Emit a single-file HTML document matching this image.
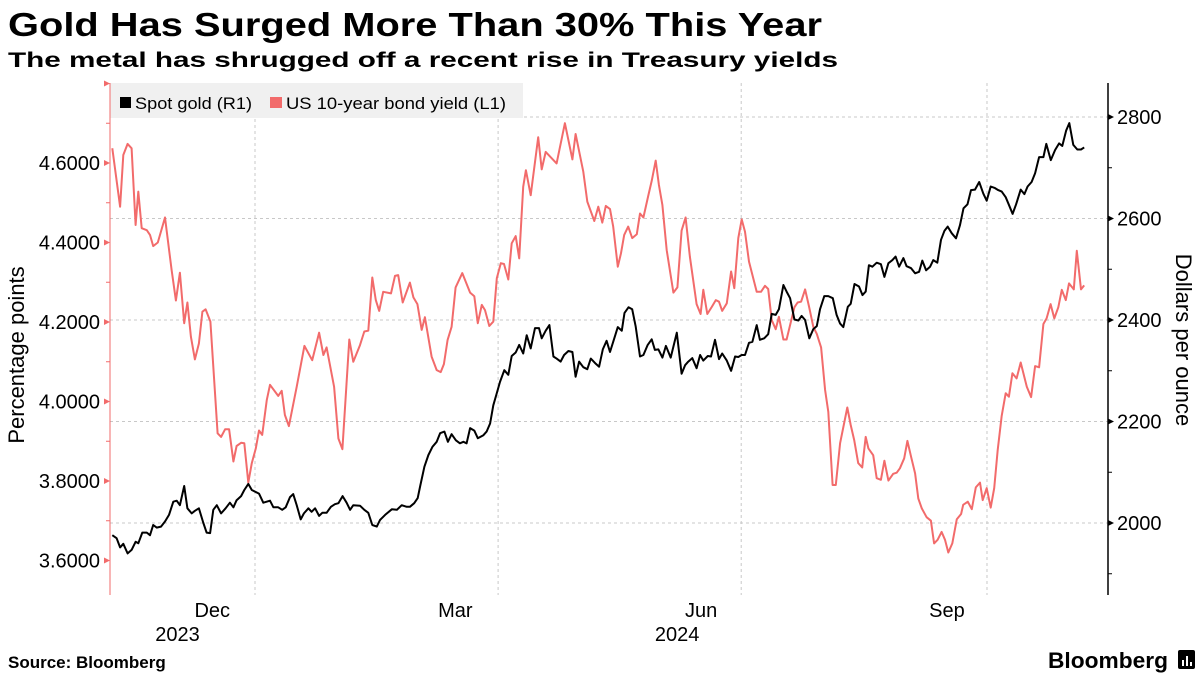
<!DOCTYPE html>
<html><head><meta charset="utf-8"><style>
html,body{margin:0;padding:0;background:#fff;}
svg{display:block;font-family:"Liberation Sans","DejaVu Sans",sans-serif;}
</style></head><body>
<svg id="chart" width="1200" height="675" viewBox="0 0 1200 675" xmlns="http://www.w3.org/2000/svg">
<text x="8" y="36" font-size="33" font-weight="bold" fill="#000" textLength="814" lengthAdjust="spacingAndGlyphs">Gold Has Surged More Than 30% This Year</text>
<text x="8" y="67" font-size="21" font-weight="bold" fill="#000" textLength="830" lengthAdjust="spacingAndGlyphs">The metal has shrugged off a recent rise in Treasury yields</text>
<g id="grid"></g>
<rect x="110" y="83" width="413" height="35" fill="#f0f0f0"/>
<g><rect x="120" y="97" width="11" height="11" fill="#000"/><text x="135" y="109" font-size="17" fill="#000" textLength="117" lengthAdjust="spacingAndGlyphs">Spot gold (R1)</text></g>
<g><rect x="270" y="97" width="12" height="11" fill="#f26b6b"/><text x="286" y="109" font-size="17" fill="#000" textLength="220" lengthAdjust="spacingAndGlyphs">US 10-year bond yield (L1)</text></g>
<g id="axes"></g>
<g id="series"></g>
<text transform="translate(24,355) rotate(-90)" text-anchor="middle" font-size="22" fill="#000">Percentage points</text>
<text transform="translate(1176,340) rotate(90)" text-anchor="middle" font-size="22" fill="#000">Dollars per ounce</text>
<text x="8" y="668" font-size="17" font-weight="bold" fill="#000">Source: Bloomberg</text>
<text x="1048" y="668" font-size="22" font-weight="bold" fill="#000" textLength="120" lengthAdjust="spacingAndGlyphs">Bloomberg</text>
<g><rect x="1178" y="650" width="17" height="19" rx="2" fill="#000"/><rect x="1182" y="660" width="2" height="6" fill="#fff"/><rect x="1186" y="656" width="2" height="10" fill="#fff"/><rect x="1190" y="662" width="2" height="4" fill="#fff"/></g>
</svg>
<script>
const goldDays=[-53.4,-51.8,-50.5,-49.3,-47.7,-46.2,-44.7,-43.7,-42.2,-40.5,-39.3,-38.1,-36.8,-35.2,-33.7,-32.2,-30.6,-29.3,-28.1,-26.5,-25.3,-23.7,-22.5,-21.0,-19.4,-18.1,-16.8,-15.6,-14.3,-12.7,-11.0,-9.4,-8.1,-6.9,-5.2,-4.0,-2.5,-1.2,1.5,3.1,5.6,6.9,8.7,10.2,11.5,13.1,14.3,15.6,17.1,18.3,20.0,21.2,22.5,24.0,25.2,26.8,28.4,29.9,31.2,32.8,34.3,35.6,36.8,39.3,40.9,42.4,43.9,45.6,46.8,48.7,51.2,53.1,54.9,56.8,58.0,59.6,60.9,61.8,63.4,64.9,66.4,68.0,69.3,70.9,72.2,73.6,75.2,76.7,78.0,79.2,80.5,82.1,83.4,85.5,86.7,88.0,89.2,90.5,91.7,93.3,94.8,96.1,97.6,98.9,100.4,101.7,103.2,104.8,106.3,107.3,108.8,110.2,111.7,112.9,114.4,115.7,117.3,118.8,120.0,121.3,122.9,124.4,125.7,127.3,128.8,130.2,131.6,132.9,134.1,135.8,137.3,138.3,139.8,141.2,142.5,144.1,145.4,147.0,148.5,149.7,151.0,152.5,153.8,155.6,157.9,159.7,161.0,162.2,163.7,165.3,166.6,167.8,169.5,170.7,172.2,173.7,174.9,176.6,178.2,179.7,180.9,182.2,183.4,184.9,186.2,187.8,189.0,190.6,192.1,193.4,194.9,196.1,197.8,199.0,200.3,201.9,203.4,204.6,205.9,207.5,209.0,210.3,211.5,213.1,214.6,216.3,217.7,219.0,220.2,221.9,223.0,224.4,226.1,227.4,228.6,229.8,231.1,232.7,234.3,235.6,237.1,238.6,239.8,241.1,242.7,243.9,245.6,247.1,248.6,249.8,251.2,252.7,253.9,255.4,256.8,258.1,259.3,260.8,262.4,263.9,265.2,266.7,268.0,269.5,271.1,272.6,273.9,275.4,277.0,278.2,279.5,281.0,282.2,283.6,284.9,286.6,288.0,289.2,290.7,292.0,293.5,295.1,296.2,297.9,299.5,301.0,302.2,303.6,304.8,306.3,307.8,309.2,310.4];
const goldValues=[1976,1970,1952,1959,1940,1947,1963,1960,1981,1981,1976,1996,1991,1993,2003,2016,2042,2044,2035,2073,2029,2019,2024,2029,2001,1981,1980,2026,2035,2019,2029,2040,2031,2045,2053,2065,2077,2065,2058,2040,2044,2031,2031,2026,2031,2051,2057,2035,2007,2019,2029,2022,2029,2014,2020,2020,2032,2037,2039,2053,2040,2026,2035,2034,2026,2020,1996,1993,2006,2016,2027,2026,2035,2032,2032,2039,2049,2072,2111,2134,2150,2160,2177,2180,2160,2175,2163,2157,2160,2157,2187,2182,2167,2173,2180,2196,2232,2256,2278,2301,2292,2329,2336,2351,2334,2370,2344,2384,2384,2364,2379,2390,2328,2324,2318,2331,2339,2337,2288,2318,2307,2303,2324,2315,2308,2342,2359,2337,2357,2386,2379,2414,2425,2421,2387,2328,2331,2351,2362,2341,2342,2326,2349,2326,2375,2294,2311,2318,2325,2305,2331,2320,2329,2328,2361,2323,2334,2320,2300,2328,2327,2331,2331,2355,2357,2390,2361,2364,2372,2412,2410,2421,2469,2456,2443,2401,2399,2408,2400,2364,2382,2388,2421,2447,2447,2443,2410,2393,2386,2426,2432,2471,2466,2449,2456,2508,2505,2513,2510,2485,2512,2518,2525,2505,2522,2506,2502,2492,2495,2517,2498,2505,2518,2513,2558,2576,2584,2571,2561,2587,2620,2628,2656,2657,2672,2649,2635,2663,2660,2656,2653,2642,2627,2609,2628,2657,2648,2663,2672,2689,2721,2721,2747,2715,2735,2748,2743,2773,2788,2745,2736,2736,2740];
const yieldDays=[-53.4,-50.5,-49.3,-47.7,-46.2,-44.7,-43.7,-42.4,-40.5,-39.3,-38.1,-36.4,-33.7,-31.2,-29.6,-28.1,-26.5,-25.3,-24.0,-22.5,-21.0,-19.7,-18.5,-16.7,-14.0,-12.7,-11.2,-9.7,-8.1,-6.9,-5.2,-4.0,-2.5,-1.2,0.3,1.5,2.7,4.4,5.6,8.7,10.0,11.2,12.7,15.6,18.5,21.4,24.0,25.6,26.8,29.6,31.2,32.7,35.3,36.8,39.3,40.9,42.4,43.9,45.2,46.5,48.0,50.9,52.4,53.6,55.3,58.0,59.3,60.8,62.4,63.6,66.1,68.0,69.5,70.7,72.1,73.6,75.1,77.6,80.5,82.1,83.4,84.9,86.1,87.7,89.2,90.5,92.0,93.2,94.8,96.1,97.6,98.9,100.4,101.4,103.2,106.0,107.3,108.8,112.9,116.0,118.8,120.0,122.9,124.4,127.0,128.5,130.0,131.3,132.9,134.1,135.8,137.0,138.2,139.7,141.2,142.9,144.1,145.4,147.2,148.5,150.0,151.2,152.5,154.1,156.6,158.1,159.7,161.2,162.8,165.3,166.8,167.8,169.3,171.0,172.5,173.7,174.9,176.6,178.2,179.4,180.9,182.2,183.4,184.9,187.8,189.4,190.9,192.1,193.4,194.9,196.1,197.8,199.0,201.9,203.1,204.4,205.9,207.4,209.0,210.3,211.9,213.4,214.6,216.2,217.4,219.0,221.7,223.0,224.3,225.8,227.3,228.6,229.6,231.4,232.7,234.3,235.6,237.1,238.9,240.2,241.4,243.0,244.2,245.6,247.1,248.3,249.6,251.4,253.0,254.2,255.5,257.0,258.3,259.5,261.0,262.7,264.3,265.1,266.8,268.3,269.8,271.4,272.4,273.9,275.4,276.7,278.0,279.5,281.0,282.2,283.5,285.1,286.6,288.9,290.5,292.0,293.5,295.1,296.3,297.8,299.2,300.7,302.0,303.5,304.7,306.5,307.6,309.2,310.4];
const yieldValues=[4.637,4.490,4.620,4.648,4.637,4.444,4.528,4.436,4.431,4.419,4.391,4.400,4.463,4.331,4.254,4.324,4.197,4.249,4.163,4.106,4.146,4.226,4.232,4.201,3.920,3.911,3.930,3.930,3.849,3.888,3.896,3.895,3.796,3.845,3.882,3.927,3.916,4.004,4.042,4.014,4.027,3.966,3.938,4.037,4.140,4.104,4.173,4.117,4.136,4.037,3.907,3.880,4.156,4.100,4.142,4.176,4.178,4.312,4.255,4.228,4.276,4.272,4.316,4.318,4.249,4.299,4.262,4.245,4.180,4.212,4.113,4.079,4.074,4.094,4.155,4.188,4.287,4.323,4.274,4.265,4.197,4.243,4.230,4.190,4.201,4.310,4.348,4.346,4.307,4.398,4.416,4.360,4.540,4.582,4.519,4.665,4.584,4.628,4.599,4.700,4.609,4.673,4.578,4.503,4.454,4.490,4.450,4.492,4.484,4.440,4.339,4.373,4.419,4.440,4.411,4.421,4.473,4.463,4.517,4.555,4.606,4.545,4.494,4.381,4.274,4.287,4.430,4.463,4.364,4.245,4.220,4.281,4.220,4.238,4.255,4.251,4.228,4.247,4.327,4.285,4.411,4.458,4.427,4.352,4.276,4.276,4.291,4.283,4.205,4.182,4.213,4.156,4.156,4.237,4.249,4.251,4.282,4.238,4.188,4.170,4.136,4.029,3.974,3.790,3.790,3.895,3.985,3.941,3.903,3.845,3.834,3.911,3.882,3.865,3.807,3.803,3.851,3.801,3.818,3.821,3.832,3.857,3.901,3.861,3.819,3.756,3.731,3.709,3.700,3.643,3.652,3.672,3.652,3.620,3.643,3.704,3.717,3.740,3.748,3.729,3.784,3.796,3.752,3.782,3.733,3.782,3.878,3.964,4.021,4.012,4.071,4.058,4.098,4.037,4.011,4.089,4.086,4.195,4.209,4.245,4.209,4.237,4.281,4.255,4.297,4.282,4.379,4.282,4.292];
const leftTicks=[3.6,3.8,4.0,4.2,4.4,4.6];
const leftTickLabels=["3.6000","3.8000","4.0000","4.2000","4.4000","4.6000"];
const rightTicks=[2000,2200,2400,2600,2800];
const rightTickLabels=["2000","2200","2400","2600","2800"];
const monthDays=[-16,75,167,259];
const monthLabels=["Dec","Mar","Jun","Sep"];
const yearDays=[-29,158];
const yearLabels=["2023","2024"];
const quarterDays=[0,91,182,274];

const xScale=d=>255+d*2.6715;
const yLeft=v=>163+(4.6-v)*397.5;
const yRight=g=>117+(2800-g)*0.5075;
const NS="http://www.w3.org/2000/svg";
function mk(tag,attrs,parent){const e=document.createElementNS(NS,tag);for(const k in attrs)e.setAttribute(k,attrs[k]);parent.appendChild(e);return e;}
const grid=document.getElementById('grid'),axes=document.getElementById('axes'),series=document.getElementById('series');

rightTicks.forEach(g=>{
  const y=yRight(g);
  const l=mk('line',{x1:110,x2:1108,y1:y,y2:y,stroke:'#c8c8c8','stroke-dasharray':'3,3','stroke-width':1},grid);
  
  
});
quarterDays.forEach(d=>{
  const x=xScale(d);
  const l=mk('line',{x1:x,x2:x,y1:83,y2:595,stroke:'#c8c8c8','stroke-dasharray':'3,3','stroke-width':1},grid);
  
  
});

const la=mk('line',{x1:110,x2:110,y1:83,y2:595,stroke:'#f26b6b','stroke-width':1},axes);


const ra=mk('line',{x1:1108,x2:1108,y1:83,y2:595,stroke:'#000','stroke-width':1.5},axes);



leftTicks.forEach((v,i)=>{
  const y=yLeft(v);
  const p=mk('path',{d:`M104 ${y-3} L110 ${y} L104 ${y+3} Z`,fill:'#f26b6b'},axes);
  
  
  const t=mk('text',{x:100,y:y+7,'text-anchor':'end','font-size':20,fill:'#000'},axes);
  t.textContent=leftTickLabels[i];
  
  
  const m=mk('line',{x1:106,x2:110,y1:yLeft(v+0.1),y2:yLeft(v+0.1),stroke:'#f26b6b'},axes);
  
  
});
const m0=mk('path',{d:`M104 ${yLeft(4.8)-3} L110 ${yLeft(4.8)} L104 ${yLeft(4.8)+3} Z`,fill:'#f26b6b'},axes);



rightTicks.forEach((g,i)=>{
  const y=yRight(g);
  const p=mk('path',{d:`M1108 ${y-3} L1114 ${y} L1108 ${y+3} Z`,fill:'#000'},axes);
  
  
  const t=mk('text',{x:1117,y:y+7,'font-size':20,fill:'#000'},axes);
  t.textContent=rightTickLabels[i];
  
  
  const ym=yRight(g-100);
  const m=mk('line',{x1:1108,x2:1112,y1:ym,y2:ym,stroke:'#000'},axes);
  
  
});

monthDays.forEach((d,i)=>{
  const t=mk('text',{x:xScale(d),y:617,'text-anchor':'middle','font-size':20,fill:'#000'},axes);
  t.textContent=monthLabels[i];
  
  
});
yearDays.forEach((d,i)=>{
  const t=mk('text',{x:xScale(d),y:641,'text-anchor':'middle','font-size':20,fill:'#000'},axes);
  t.textContent=yearLabels[i];
  
  
});

const yp=mk('path',{d:yieldDays.map((d,i)=>(i?'L':'M')+xScale(d).toFixed(1)+' '+yLeft(yieldValues[i]).toFixed(1)).join(' '),fill:'none',stroke:'#f26b6b','stroke-width':2,'stroke-linejoin':'round'},series);


const gp=mk('path',{d:goldDays.map((d,i)=>(i?'L':'M')+xScale(d).toFixed(1)+' '+yRight(goldValues[i]).toFixed(1)).join(' '),fill:'none',stroke:'#000','stroke-width':2,'stroke-linejoin':'round'},series);


</script>
</body></html>
